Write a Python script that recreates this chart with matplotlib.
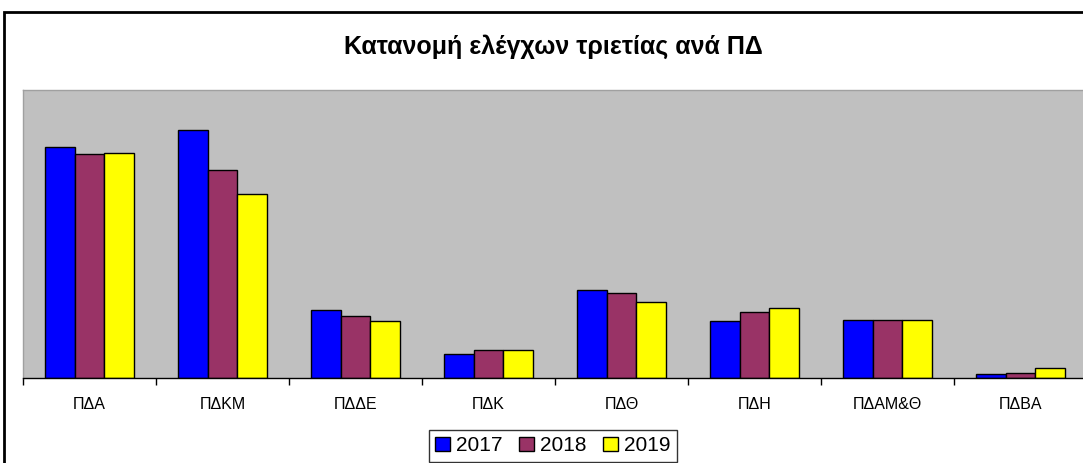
import matplotlib.pyplot as plt
import numpy as np
from matplotlib.patches import Rectangle

categories = ['ΠΔΑ', 'ΠΔΚΜ', 'ΠΔΔΕ', 'ΠΔΚ', 'ΠΔΘ', 'ΠΔΗ', 'ΠΔΑΜ&Θ', 'ΠΔΒΑ']
v2017 = [231, 248, 68, 24, 88, 57, 58, 4]
v2018 = [224, 208, 62, 28, 85, 66, 58, 5]
v2019 = [225, 184, 57, 28, 76, 70, 58, 10]
years = ['2017', '2018', '2019']
colors = ['#0000FF', '#993366', '#FFFF00']

plt.rcParams['font.family'] = ['Liberation Sans', 'DejaVu Sans']

fig = plt.figure(figsize=(10.83, 4.63), dpi=100)
W, H = 1083, 463
# plot area in pixels: left 23, right 1087, top 90, bottom 378
ax = fig.add_axes([23 / W, 1 - 378 / H, (1087 - 23) / W, (378 - 90) / H])
ax.set_facecolor('#C0C0C0')

x = np.arange(len(categories))
w = 1 / 4.5
for i, (vals, c, lab) in enumerate(zip([v2017, v2018, v2019], colors, years)):
  ax.bar(x + (i - 1) * w, vals, width=w, color=c, edgecolor='black', linewidth=1, label=lab)

ax.set_xlim(-0.5, len(categories) - 0.5)
ax.set_ylim(0, 288)
ax.set_yticks([])
ax.set_xticks(np.arange(len(categories) + 1) - 0.5, minor=False)
ax.set_xticklabels([])
ax.set_xticks(x, minor=True)
ax.set_xticklabels(categories, minor=True, fontsize=11.5)
ax.tick_params(axis='x', which='major', length=5, direction='out', width=1)
ax.tick_params(axis='x', which='minor', length=0, pad=13.5)
for s in ['left', 'top', 'right']:
  ax.spines[s].set_color('#A0A0A0')
  ax.spines[s].set_linewidth(1)
ax.spines['bottom'].set_color('black')
ax.spines['bottom'].set_linewidth(1)

fig.text(553 / W, 1 - 47 / H, 'Κατανομή ελέγχων τριετίας ανά ΠΔ', ha='center', va='center',
         fontsize=18, fontweight='bold')

leg = fig.legend(loc='upper center', bbox_to_anchor=(553 / W, 1 - 430 / H), ncol=3,
                 fontsize=15, frameon=True, fancybox=False, edgecolor='black',
                 handlelength=0.7, handleheight=0.7, handletextpad=0.3, columnspacing=0.8,
                 borderpad=0.3, borderaxespad=0)
leg.get_frame().set_linewidth(1)

fig.patches.append(Rectangle((4 / W, -0.1), 1.2, 1 - 12 / H + 0.1, transform=fig.transFigure,
                             fill=False, edgecolor='black', linewidth=2))

fig.savefig('out.png', dpi=100)
